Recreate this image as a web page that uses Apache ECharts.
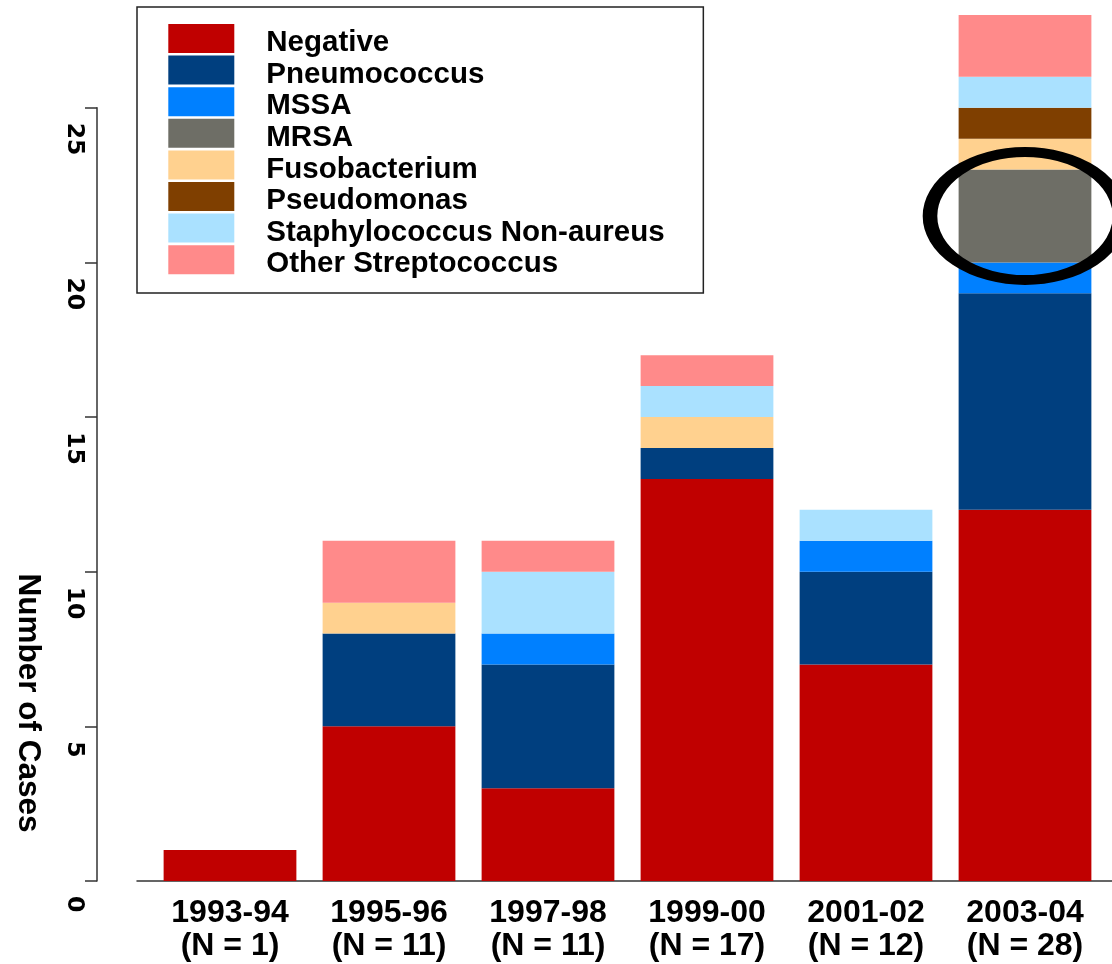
<!DOCTYPE html>
<html>
<head>
<meta charset="utf-8">
<script src="https://cdn.jsdelivr.net/npm/echarts@6/dist/echarts.min.js"></script>
<style>
  html, body { margin: 0; padding: 0; background: #ffffff; }
  #chart { width: 1112px; height: 964px; }
</style>
</head>
<body>
<div id="chart"></div>
<script>
// Seasons on the category axis
const categories = ['1993-94', '1995-96', '1997-98', '1999-00', '2001-02', '2003-04'];

// Cases per organism and season (stacked bottom to top in this order)
const negative       = [1, 5, 3, 13, 7, 12];
const pneumococcus   = [0, 3, 4, 1, 3, 7];
const mssa           = [0, 0, 1, 0, 1, 1];
const mrsa           = [0, 0, 0, 0, 0, 3];
const fusobacterium  = [0, 1, 0, 1, 0, 1];
const pseudomonas    = [0, 0, 0, 0, 0, 1];
const staphNonAureus = [0, 0, 2, 1, 1, 1];
const otherStrep     = [0, 2, 1, 1, 0, 2];

const seriesNames = ['Negative', 'Pneumococcus', 'MSSA', 'MRSA', 'Fusobacterium',
  'Pseudomonas', 'Staphylococcus Non-aureus', 'Other Streptococcus'];
const seriesValues = [negative, pneumococcus, mssa, mrsa, fusobacterium,
  pseudomonas, staphNonAureus, otherStrep];

// Value axis extent and labelled tick range
const yMax = 28;
const yTickMax = 25;
const yTickStep = 5;

// Ring drawn around the MRSA block of the latest season
const ringCategory = '2003-04';
const ringValue = 21.5;

// Styling
const palette = ['#C00000', '#003F7F', '#0080FF', '#6E6E66', '#FFD18F',
  '#7F3F00', '#AAE1FF', '#FF8A8A'];
const sans = '"Liberation Sans", Arial, sans-serif';

// Season totals shown under each season label
const totals = categories.map((_, i) => seriesValues.reduce((s, arr) => s + arr[i], 0));

// Layout: the bar grid and the tick grid share the same pixels per case
const baseY = 881;
const pxPerCase = 30.93;
const gridBottom = 964 - baseY;
const topBars = baseY - yMax * pxPerCase;
const topTicks = baseY - yTickMax * pxPerCase;

const chart = echarts.init(document.getElementById('chart'), null, { renderer: 'canvas' });

const barSeries = seriesNames.map((name, k) => ({
  name: name,
  type: 'bar',
  stack: 'cases',
  xAxisIndex: 0,
  yAxisIndex: 0,
  data: seriesValues[k],
  barCategoryGap: '16.5%',
  itemStyle: { color: palette[k] },
  emphasis: { disabled: true },
  silent: true
}));

const option = {
  animation: false,
  backgroundColor: '#ffffff',
  grid: [
    { left: 150.5, right: 7.5, top: topBars, bottom: gridBottom },
    { left: 137, right: 0, top: topBars, bottom: gridBottom },
    { left: 97, width: 10, top: topTicks, bottom: gridBottom }
  ],
  xAxis: [
    {
      type: 'category', gridIndex: 0, data: categories,
      axisLine: { show: false }, axisTick: { show: false },
      axisLabel: {
        interval: 0, margin: 16,
        formatter: (v, i) => v + '\n(N = ' + totals[i] + ')',
        fontFamily: sans, fontWeight: 'bold', fontSize: 32, lineHeight: 33, color: '#000'
      }
    },
    {
      type: 'value', gridIndex: 1, min: 0, max: 1,
      axisLine: { show: true, onZero: false, lineStyle: { color: '#333', width: 1.5 } },
      axisTick: { show: false }, axisLabel: { show: false }, splitLine: { show: false }
    },
    { type: 'value', gridIndex: 2, min: 0, max: 1, show: false }
  ],
  yAxis: [
    { type: 'value', gridIndex: 0, min: 0, max: yMax, show: false },
    { type: 'value', gridIndex: 1, min: 0, max: 1, show: false },
    {
      type: 'value', gridIndex: 2, min: 0, max: yTickMax, interval: yTickStep,
      axisLine: { show: true, lineStyle: { color: '#333', width: 1.5 } },
      axisTick: { show: true, length: 12, lineStyle: { color: '#333', width: 1.5 } },
      splitLine: { show: false },
      axisLabel: {
        rotate: -90, margin: 11, align: 'left', verticalAlign: 'top',
        padding: [0, 0, 0, 15],
        fontFamily: '"DejaVu Sans", sans-serif', fontWeight: 'bold', fontSize: 23.5, color: '#000'
      }
    }
  ],
  legend: {
    orient: 'vertical', left: 137, top: 7,
    data: seriesNames, icon: 'rect',
    itemWidth: 66, itemHeight: 29, itemGap: -7.4,
    padding: [12, 38.7, 13.7, 31.3],
    borderColor: '#222', borderWidth: 1.5,
    selectedMode: false,
    itemStyle: { borderWidth: 0 },
    formatter: name => '{t|' + name + '}',
    textStyle: {
      rich: {
        t: {
          fontFamily: sans, fontWeight: 'bold', fontSize: 29.5, lineHeight: 18,
          padding: [9, 0, 0, 27], color: '#000'
        }
      }
    }
  },
  graphic: [
    {
      type: 'text', x: 28, y: 703, rotation: -Math.PI / 2,
      style: {
        text: 'Number of Cases', fill: '#000',
        font: 'bold 31.5px ' + sans, align: 'center', verticalAlign: 'middle'
      }
    }
  ],
  series: barSeries.concat([
    {
      name: 'ring', type: 'scatter', xAxisIndex: 0, yAxisIndex: 0,
      data: [[ringCategory, ringValue]],
      symbol: 'circle', symbolSize: [190, 128],
      itemStyle: { color: 'rgba(0,0,0,0)', borderColor: '#000', borderWidth: 12, opacity: 1 },
      z: 10, silent: true, clip: false,
      emphasis: { disabled: true }
    }
  ])
};

chart.setOption(option);
</script>
</body>
</html>
